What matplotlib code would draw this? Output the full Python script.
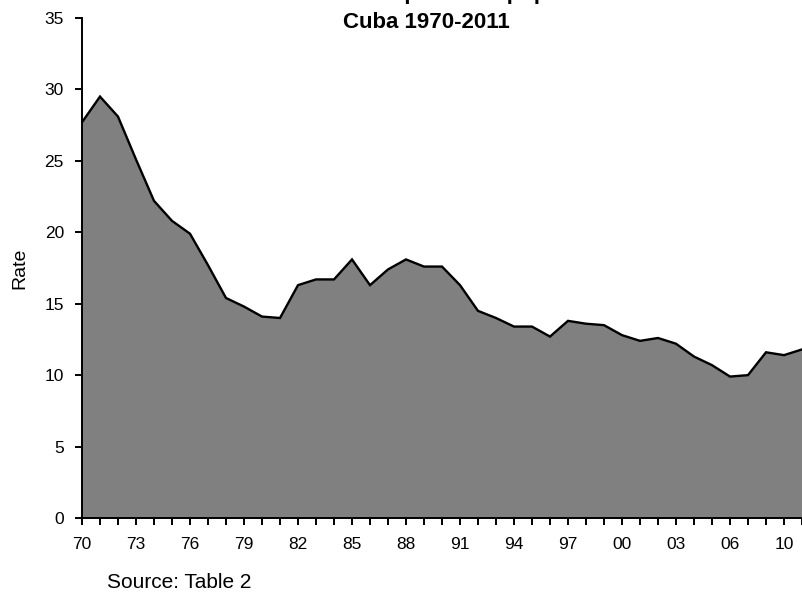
import matplotlib
matplotlib.use("Agg")
import matplotlib.pyplot as plt
import numpy as np

plt.rcParams['font.family'] = ['Liberation Sans', 'DejaVu Sans']

# crude birth rate, Cuba
years = ["70", "71", "72", "73", "74", "75", "76", "77", "78", "79",
         "80", "81", "82", "83", "84", "85", "86", "87", "88", "89",
         "90", "91", "92", "93", "94", "95", "96", "97", "98", "99",
         "00", "01", "02", "03", "04", "05", "06", "07", "08", "10", "11"]
rate = [27.7, 29.5, 28.1, 25.1, 22.2, 20.8, 19.9, 17.7, 15.4, 14.8,
        14.1, 14.0, 16.3, 16.7, 16.7, 18.1, 16.3, 17.4, 18.1, 17.6,
        17.6, 16.3, 14.5, 14.0, 13.4, 13.4, 12.7, 13.8, 13.6, 13.5,
        12.8, 12.4, 12.6, 12.2, 11.3, 10.7, 9.9, 10.0, 11.6, 11.4, 11.8]
shown_labels = ["70", "73", "76", "79", "82", "85", "88", "91", "94", "97",
                "00", "03", "06", "10"]
yticks = [0, 5, 10, 15, 20, 25, 30, 35]

fig = plt.figure(figsize=(8.02, 5.95), dpi=100)
ax = fig.add_axes([82/802, 77/595, 720/802, 500/595])

x = np.arange(len(years))
ax.fill_between(x, rate, 0, facecolor='#808080', edgecolor='none', zorder=1)
ax.plot(x, rate, color='black', lw=1.7, zorder=2, solid_joinstyle='miter')

ax.set_xlim(0, len(years) - 1)
ax.set_ylim(0, 35)
ax.set_xticks(x)
ax.set_xticklabels([y if y in shown_labels else "" for y in years])
ax.set_yticks(yticks)

for s in ['top', 'right']:
    ax.spines[s].set_visible(False)
for s in ['left', 'bottom']:
    ax.spines[s].set_linewidth(1.4)
    ax.spines[s].set_zorder(3)

ax.tick_params(axis='both', direction='out', length=5, width=1.4, labelsize=12.5)
ax.tick_params(axis='y', pad=8)
ax.tick_params(axis='x', pad=9)
ax.set_ylabel("Rate", fontsize=14)
ax.yaxis.set_label_coords(-54/720, 0.5)

# first title line sits above the top edge in the reference, only descenders show
fig.text(426/802, 1 + 1.5/595, "Crude birth rate per 1 000 population",
         ha='center', va='baseline', fontsize=16, fontweight='bold')
fig.text(426/802, 1 - 28/595, "Cuba 1970-2011",
         ha='center', va='baseline', fontsize=16, fontweight='bold')
fig.text(107/802, 1 - 588/595, "Source: Table 2", ha='left', va='baseline', fontsize=15)

fig.savefig("out.png", dpi=100)
